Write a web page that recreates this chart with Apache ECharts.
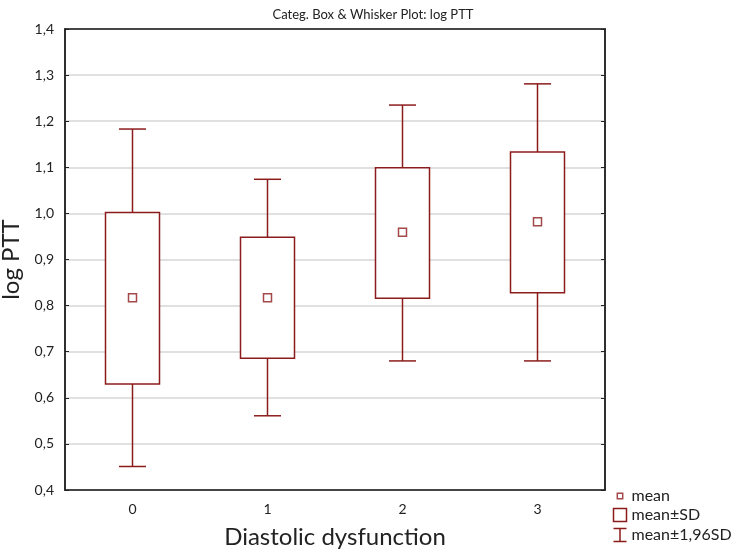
<!DOCTYPE html>
<html lang="en">
<head>
<meta charset="UTF-8" />
<title>Categ. Box & Whisker Plot: log PTT</title>
<style>
  * { margin: 0; padding: 0; box-sizing: border-box; }
  #chart { width: 746px; height: 555px; background: #fff; }
</style>
</head>
<body>
<div id="chart"></div>
<script src="https://cdn.jsdelivr.net/npm/echarts@6/dist/echarts.min.js"></script>
<script>
// data
const categories = ['0', '1', '2', '3'];
const means = [0.817, 0.817, 0.959, 0.982];
const sdLow = [0.630, 0.686, 0.816, 0.828];
const sdHigh = [1.002, 0.948, 1.099, 1.133];
const ciLow = [0.451, 0.561, 0.680, 0.680];
const ciHigh = [1.183, 1.074, 1.235, 1.281];

const red = '#8c1c1c';
const font = 'Lato, "Open Sans", sans-serif';
const fmt = v => v.toFixed(1).replace('.', ',');

// whisker: line from low to high + caps
function renderWhisker(params, api) {
  const x = api.value(0);
  const lo = api.coord([x, api.value(1)]);
  const hi = api.coord([x, api.value(2)]);
  const cap = api.size([1, 0])[0] * 0.2;
  const st = { stroke: red, lineWidth: 1.5 };
  return {
    type: 'group',
    children: [
      { type: 'line', shape: { x1: lo[0], y1: lo[1], x2: hi[0], y2: hi[1] }, style: st },
      { type: 'line', shape: { x1: lo[0] - cap / 2, y1: lo[1], x2: lo[0] + cap / 2, y2: lo[1] }, style: st },
      { type: 'line', shape: { x1: hi[0] - cap / 2, y1: hi[1], x2: hi[0] + cap / 2, y2: hi[1] }, style: st }
    ]
  };
}

// box: mean ± SD
function renderBox(params, api) {
  const x = api.value(0);
  const lo = api.coord([x, api.value(1)]);
  const hi = api.coord([x, api.value(2)]);
  const w = api.size([1, 0])[0] * 0.4;
  return {
    type: 'rect',
    shape: { x: hi[0] - w / 2, y: hi[1], width: w, height: lo[1] - hi[1] },
    style: { fill: '#fff', stroke: red, lineWidth: 1.5 }
  };
}

const chart = echarts.init(document.getElementById('chart'));
chart.setOption({
  animation: false,
  textStyle: { fontFamily: font },
  title: {
    text: 'Categ. Box & Whisker Plot: log PTT',
    left: 'center',
    top: 3,
    textStyle: { fontSize: 13, fontWeight: 'normal', color: '#222', fontFamily: font }
  },
  grid: {
    left: 65, right: 141, top: 29, bottom: 65,
    outerBoundsMode: 'none',
    containLabel: false,
    show: true, borderColor: '#222', borderWidth: 1.5, backgroundColor: 'transparent'
  },
  legend: {
    orient: 'vertical',
    left: 611,
    top: 488,
    padding: 0,
    itemWidth: 13,
    itemHeight: 13,
    itemGap: 3,
    textStyle: { fontSize: 16, color: '#222', fontFamily: font },
    data: [
      { name: 'mean', icon: 'path://M0,0M12,12M3.5,3.5h5v5h-5z', itemStyle: { color: '#fff', borderColor: red, borderWidth: 1.5 } },
      { name: 'mean±SD', icon: 'path://M1,1h11v11h-11z', itemStyle: { color: '#fff', borderColor: red, borderWidth: 1.5 } },
      { name: 'mean±1,96SD', icon: 'path://M0,0h12M6,0v12M0,12h12', itemStyle: { color: 'none', borderColor: red, borderWidth: 1.5 } }
    ],
    selectedMode: false
  },
  xAxis: [
    {
      type: 'category',
      data: categories,
      name: 'Diastolic dysfunction',
      nameLocation: 'middle',
      nameGap: 35,
      nameTextStyle: { fontSize: 24, color: '#222', fontFamily: font },
      axisLine: { lineStyle: { color: '#222', width: 1.5 } },
      axisTick: { alignWithLabel: true, inside: true, length: 5, lineStyle: { color: '#222' } },
      axisLabel: { fontSize: 14, color: '#222', margin: 12 },
      splitLine: { show: false }
    },
    {
      type: 'category',
      data: categories,
      position: 'top',
      axisLine: { lineStyle: { color: '#222', width: 1.5 } },
      axisTick: { alignWithLabel: true, inside: true, length: 5, lineStyle: { color: '#222' } },
      axisLabel: { show: false }
    }
  ],
  yAxis: [
    {
      type: 'value',
      min: 0.4, max: 1.4, interval: 0.1,
      name: 'log PTT',
      nameLocation: 'middle',
      nameGap: 30,
      nameTextStyle: { fontSize: 24, color: '#222', fontFamily: font },
      axisLine: { show: true, lineStyle: { color: '#222', width: 1.5 } },
      axisTick: { show: true, inside: true, length: 4, lineStyle: { color: '#222' } },
      axisLabel: { fontSize: 14, color: '#222', margin: 11, formatter: fmt },
      splitLine: { lineStyle: { color: '#d6d6d6', width: 1.5 } }
    },
    {
      type: 'value',
      min: 0.4, max: 1.4, interval: 0.1,
      position: 'right',
      axisLine: { show: true, lineStyle: { color: '#222', width: 1.5 } },
      axisTick: { show: true, inside: true, length: 4, lineStyle: { color: '#222' } },
      axisLabel: { show: false },
      splitLine: { show: false }
    }
  ],
  series: [
    {
      name: 'mean±1,96SD',
      type: 'custom',
      renderItem: renderWhisker,
      itemStyle: { color: red },
      encode: { x: 0, y: [1, 2] },
      data: categories.map((c, i) => [i, ciLow[i], ciHigh[i]]),
      z: 2
    },
    {
      name: 'mean±SD',
      type: 'custom',
      renderItem: renderBox,
      itemStyle: { color: red },
      encode: { x: 0, y: [1, 2] },
      data: categories.map((c, i) => [i, sdLow[i], sdHigh[i]]),
      z: 3
    },
    {
      name: 'mean',
      type: 'scatter',
      symbol: 'rect',
      symbolSize: 8,
      itemStyle: { color: '#fff', borderColor: red, borderWidth: 1.5 },
      data: categories.map((c, i) => [i, means[i]]),
      z: 4
    }
  ]
});
</script>
</body>
</html>
